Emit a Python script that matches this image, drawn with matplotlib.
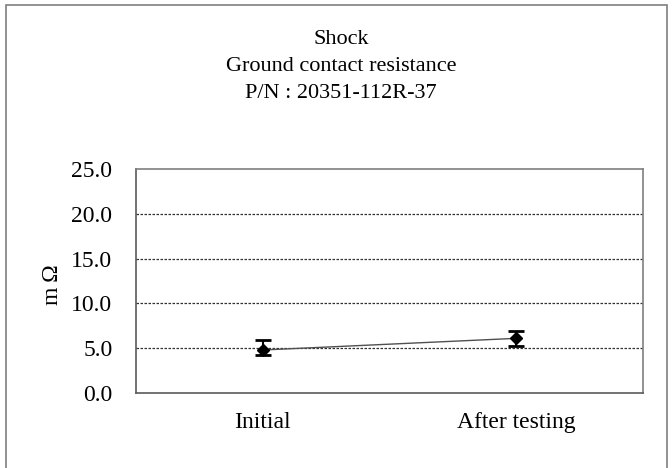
import matplotlib
matplotlib.use("Agg")
import matplotlib.pyplot as plt
from matplotlib.patches import Rectangle
import numpy as np

categories = ["Initial", "After testing"]
mean_vals = [4.8, 6.1]
min_vals = [4.25, 5.2]
max_vals = [5.9, 6.9]
y_ticks = [0.0, 5.0, 10.0, 15.0, 20.0, 25.0]
title_lines = ["Shock", "Ground contact resistance", "P/N : 20351-112R-37"]

plt.rcParams['font.family'] = ['Liberation Serif', 'DejaVu Serif']

W, H = 672, 468
fig = plt.figure(figsize=(W/100, H/100), dpi=100)
fig.patch.set_facecolor('white')

# outer chart frame
fig.patches.append(Rectangle((6/W, -0.05), (667-6)/W, 1.05 - 5/H, transform=fig.transFigure,
                             fill=False, edgecolor='#7f7f7f', linewidth=1.2))

ax = fig.add_axes([136/W, 1-393/H, (643-136)/W, (393-169)/H])
x = np.arange(len(categories))
ax.set_xlim(-0.5, len(categories)-0.5)
ax.set_ylim(0, 25)
ax.set_yticks(y_ticks)
ax.set_yticklabels([f"{v:.1f}" for v in y_ticks], fontsize=17)
ax.set_xticks(x)
ax.set_xticklabels(categories, fontsize=17)
ax.tick_params(length=0)
ax.tick_params(axis='y', pad=17)
ax.tick_params(axis='x', pad=14)
for v in y_ticks[1:-1]:
    ax.axhline(v, color='#303030', linestyle=(0, (2, 1.2)), linewidth=0.9, zorder=1)
for s in ax.spines.values():
    s.set_color('#7f7f7f')
    s.set_linewidth(1.2)
ax.spines['left'].set_color('#5a5a5a')
ax.spines['bottom'].set_color('#5a5a5a')

m = np.array(mean_vals)
lo = m - np.array(min_vals)
hi = np.array(max_vals) - m
ax.plot(x, m, color='#505050', linewidth=1.0, zorder=2)
ax.errorbar(x, m, yerr=[lo, hi], fmt='D', color='black', markersize=6.5,
            ecolor='black', elinewidth=1.5, capsize=5.5, capthick=2, zorder=3)

fig.text(53/W, 1-285/H, "m\u2009Ω", rotation=90, ha='center', va='center', fontsize=17,
         family=['Liberation Serif', 'DejaVu Serif'])

for t, yy in zip(title_lines, [40, 67, 94]):
    fig.text(341/W, 1-yy/H, t, ha='center', va='center', fontsize=16)

fig.savefig("out.png", dpi=100)
